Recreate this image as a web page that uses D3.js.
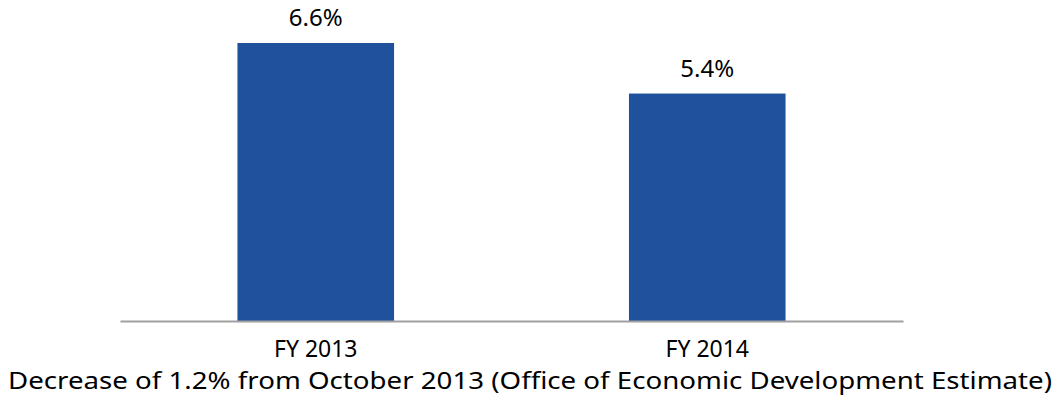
<!DOCTYPE html>
<html><head><meta charset="utf-8">
<script src="https://cdn.jsdelivr.net/npm/d3@7"></script>
<style>body{margin:0;background:#fff}svg{display:block}text{font-family:"Noto Sans",sans-serif;fill:#000}</style>
</head><body>
<svg id="c" width="1060" height="400"></svg>
<script>
const categories = ["FY 2013", "FY 2014"];
const values = [6.6, 5.4];
const valueLabels = ["6.6%", "5.4%"];
const caption = "Decrease of 1.2% from October 2013 (Office of Economic Development Estimate)";

const svg = d3.select("#c");
const x = d3.scaleBand().domain(categories).range([120, 903]).paddingInner(0.6).paddingOuter(0.3);
const y = d3.scaleLinear().domain([0, 6.6]).range([321, 43]);

svg.selectAll("rect.bar").data(values).enter().append("rect")
  .attr("class","bar")
  .attr("x",(d,i)=>x(categories[i]))
  .attr("width",x.bandwidth())
  .attr("y",d=>y(d))
  .attr("height",d=>y(0)-y(d))
  .attr("fill","#1f519d");

const ax = svg.append("g").attr("transform","translate(0,321)")
  .call(d3.axisBottom(x).tickSize(0).tickPadding(0));
ax.select(".domain").attr("stroke","#a0a0a0").attr("stroke-width",2);
ax.selectAll(".tick text").attr("dy",null).attr("y",36)
  .style("font-size","23px").style("font-family","'Noto Sans', sans-serif").attr("fill","#000");

svg.selectAll("text.vl").data(values).enter().append("text")
  .attr("class","vl")
  .attr("x",(d,i)=>x(categories[i])+x.bandwidth()/2)
  .attr("y",d=>y(d)-17)
  .attr("text-anchor","middle")
  .style("font-size","24px")
  .text((d,i)=>valueLabels[i]);

svg.append("text").attr("x",530).attr("y",389).attr("text-anchor","middle")
  .style("font-size","23px")
  .attr("textLength",1044).attr("lengthAdjust","spacingAndGlyphs")
  .text(caption);
</script>
</body></html>
